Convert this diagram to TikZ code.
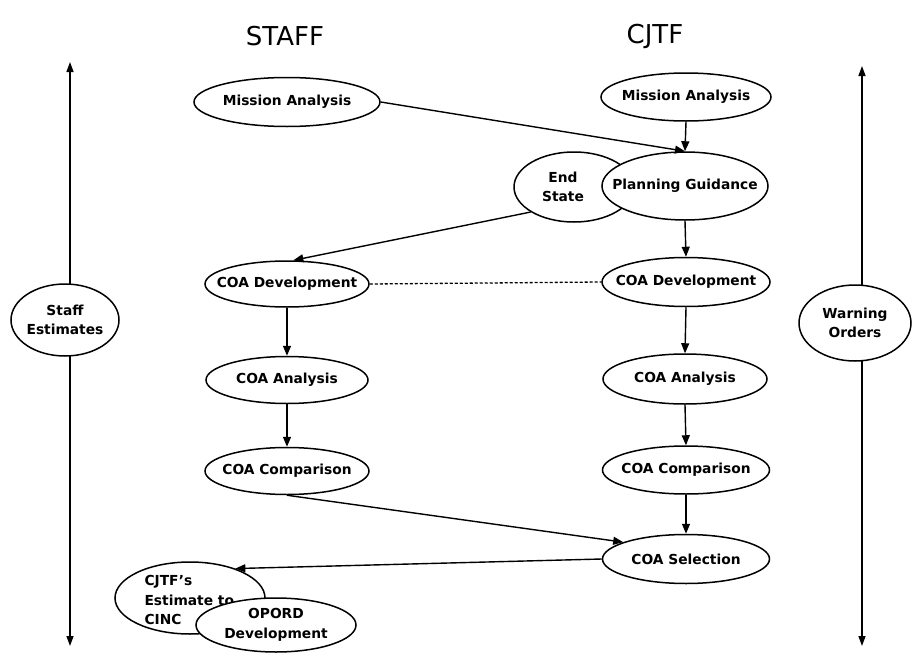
\documentclass[tikz,border=0pt]{standalone}
\usepackage{fontspec}
\setmainfont{DejaVu Sans}
\usetikzlibrary{shapes.geometric,arrows.meta}
\tikzset{
  txt/.style={font=\bfseries\fontsize{13.8}{19.5}\selectfont},
  ell/.style={ellipse,draw,line width=1.5pt,fill=white,inner sep=0pt},
  lab/.style={label={[txt,align=center]center:#1}},
  conn/.style={line width=1.4pt,-{Triangle[length=10pt,width=8pt]}},
  dbl/.style={line width=1.4pt,{Triangle[length=10pt,width=7pt]}-{Triangle[length=10pt,width=7pt]}},
  head/.style={font=\fontsize{26}{30}\selectfont}
}
\begin{document}
\begin{tikzpicture}[x=1pt,y=-1pt]
\useasboundingbox (0,0) rectangle (914,656);
% headings
\node[head] (hs) at (285,36) {STAFF};
\node[head] (hc) at (655,36) {CJTF};
% side arrows
\coordinate (lt) at (70,62);
\coordinate (lb) at (70,646);
\coordinate (rt) at (862,66);
\coordinate (rb) at (862,646);
\draw[dbl] (lt) -- (lb);
\draw[dbl] (rt) -- (rb);
\node[ell,minimum width=108,minimum height=72,lab={Staff\\Estimates}] (se) at (65,320) {};
\node[ell,minimum width=112,minimum height=76,lab={Warning\\Orders}] (wo) at (855,323) {};
% staff column
\node[ell,minimum width=186,minimum height=49,lab={Mission Analysis}] (sma) at (287,102) {};
\node[ell,minimum width=164,minimum height=46,lab={COA Development}] (sdev) at (287,284) {};
\node[ell,minimum width=162,minimum height=47,lab={COA Analysis}] (sana) at (287,380) {};
\node[ell,minimum width=164,minimum height=47,lab={COA Comparison}] (scomp) at (287,471) {};
% cjtf column
\node[ell,minimum width=170,minimum height=48,lab={Mission Analysis}] (cma) at (686,97) {};
\node[ell,minimum width=120,minimum height=70] (es) at (574,187) {};
\node[txt,align=center] (est) at (563,187) {End\\State};
\node[ell,minimum width=166,minimum height=68,lab={Planning Guidance}] (pg) at (685,186) {};
\node[ell,minimum width=168,minimum height=49,lab={COA Development}] (cdev) at (686,282) {};
\node[ell,minimum width=164,minimum height=50,lab={COA Analysis}] (cana) at (685,379) {};
\node[ell,minimum width=167,minimum height=48,lab={COA Comparison}] (ccomp) at (686,470) {};
\node[ell,minimum width=167,minimum height=49,lab={COA Selection}] (csel) at (686,559) {};
% bottom left
\node[ell,minimum width=150,minimum height=72] (cest) at (190,598) {};
\node[txt,align=left,anchor=west] (cestt) at (141,600) {CJTF's\\Estimate to\\CINC};
\node[ell,minimum width=160,minimum height=54,lab={OPORD\\Development}] (opord) at (276,625) {};
% connectors
\draw[conn] (sma.east) -- (pg.north);
\draw[conn] (cma.south) -- (pg.north);
\draw[conn] (es.210) -- (sdev.75);
\draw[conn] (pg.south) -- (cdev.north);
\draw[line width=1.3pt,densely dashed] (sdev.east) -- (cdev.west);
\draw[conn] (sdev.south) -- (sana.north);
\draw[conn] (sana.south) -- (scomp.north);
\draw[conn] (cdev.south) -- (cana.north);
\draw[conn] (cana.south) -- (ccomp.north);
\draw[conn] (ccomp.south) -- (csel.north);
\draw[conn] (scomp.south) -- (csel.165);
\draw[conn] (csel.west) -- (cest.33);
\end{tikzpicture}
\end{document}
